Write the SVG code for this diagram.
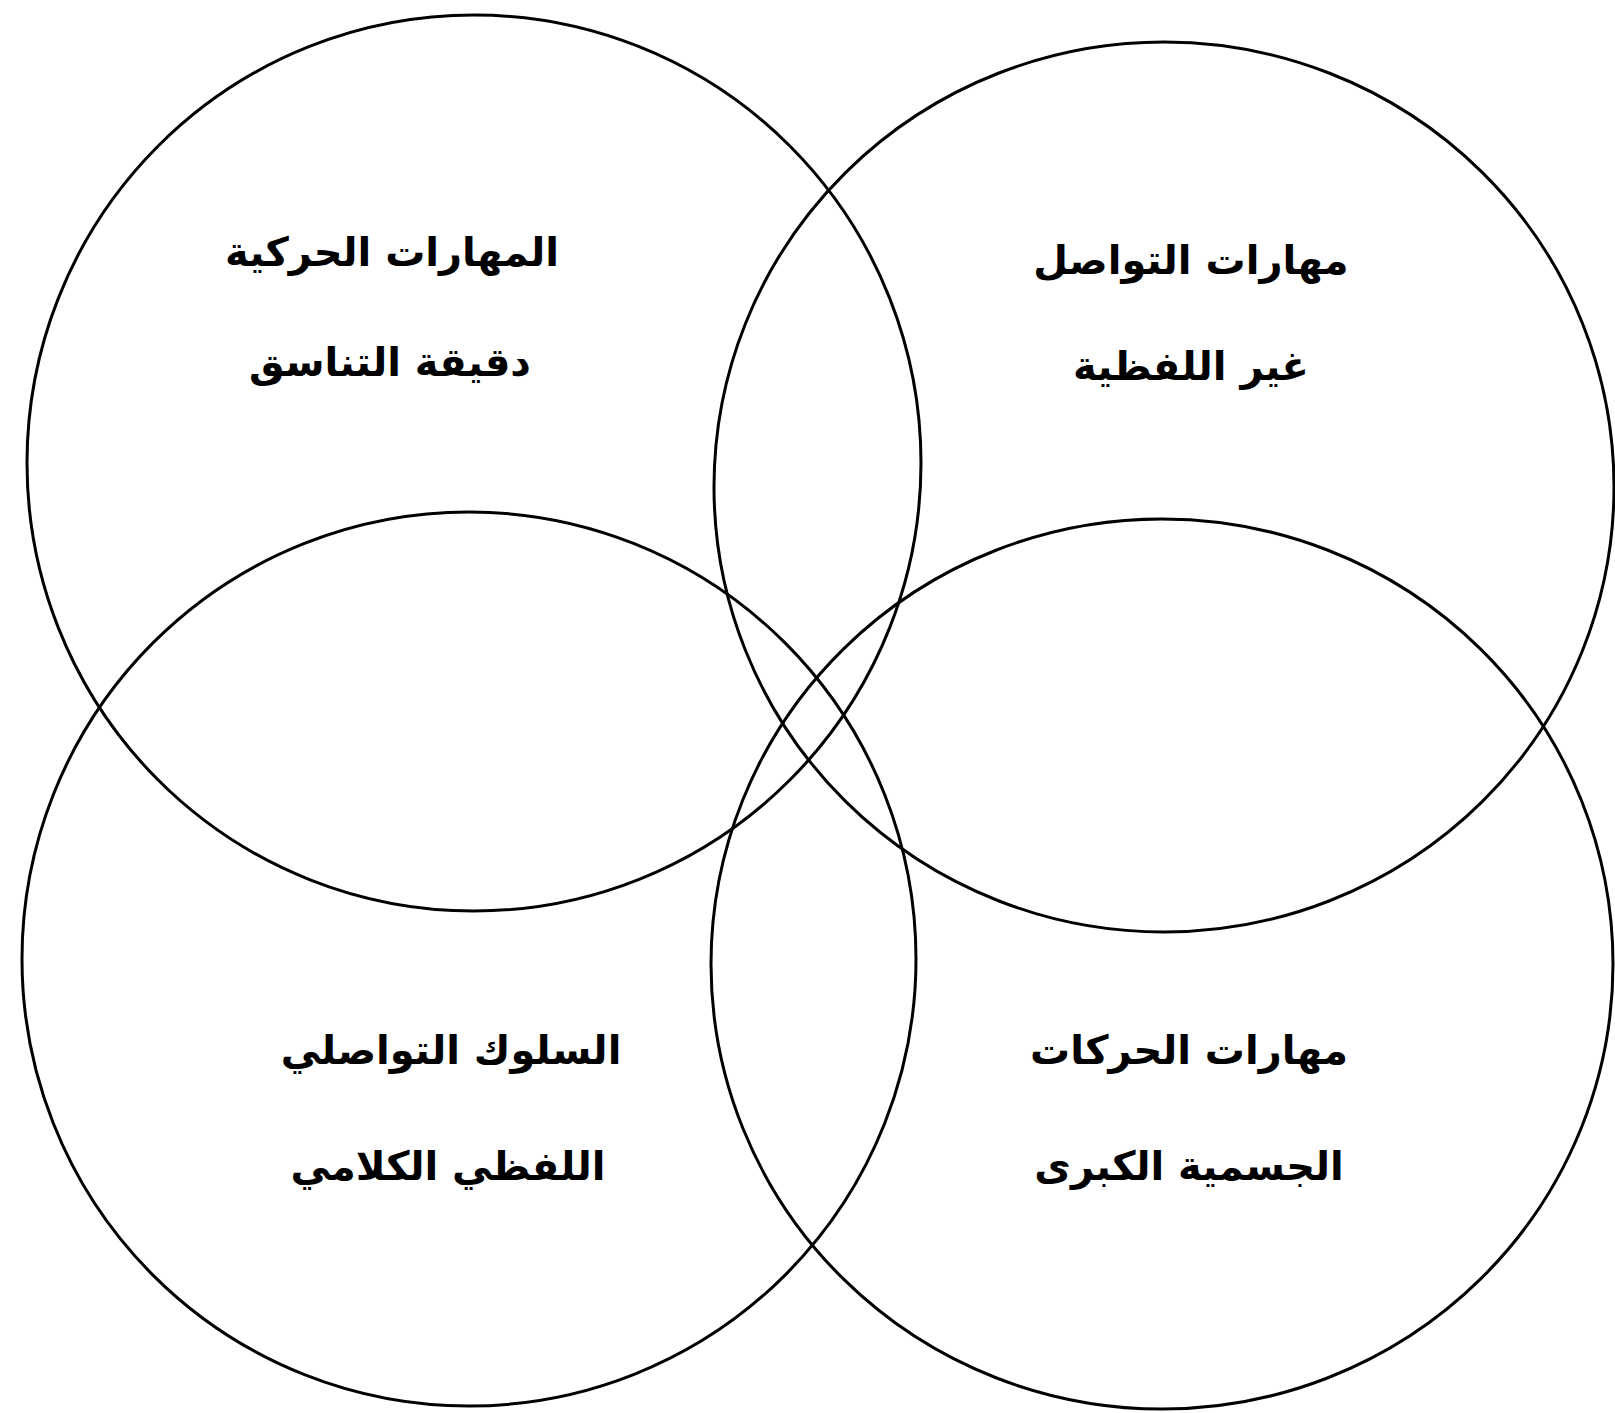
<svg xmlns="http://www.w3.org/2000/svg" width="1615" height="1413" viewBox="0 0 1615 1413">
<style>
.c{fill:none;stroke:#000;stroke-width:3}
.t{font-family:"DejaVu Sans",sans-serif;font-size:40px;font-weight:bold;fill:#000;text-anchor:middle}
</style>
<rect width="1615" height="1413" fill="#fff"/>
<g id="circle-top-left"><ellipse class="c" cx="474" cy="463" rx="447" ry="448"/>
<text class="t" x="392" y="266" direction="rtl">المهارات الحركية</text>
<text class="t" x="390" y="376" direction="rtl">دقيقة التناسق</text></g>
<g id="circle-top-right"><ellipse class="c" cx="1164" cy="487" rx="450" ry="445"/>
<text class="t" x="1191" y="274" direction="rtl">مهارات التواصل</text>
<text class="t" x="1191" y="380" direction="rtl">غير اللفظية</text></g>
<g id="circle-bottom-left"><ellipse class="c" cx="469" cy="959" rx="447" ry="447"/>
<text class="t" x="451" y="1064" direction="rtl">السلوك التواصلي</text>
<text class="t" x="448" y="1180" direction="rtl">اللفظي الكلامي</text></g>
<g id="circle-bottom-right"><ellipse class="c" cx="1162" cy="964" rx="451" ry="445"/>
<text class="t" x="1189" y="1064" direction="rtl">مهارات الحركات</text>
<text class="t" x="1189" y="1180" direction="rtl">الجسمية الكبرى</text></g>
</svg>
